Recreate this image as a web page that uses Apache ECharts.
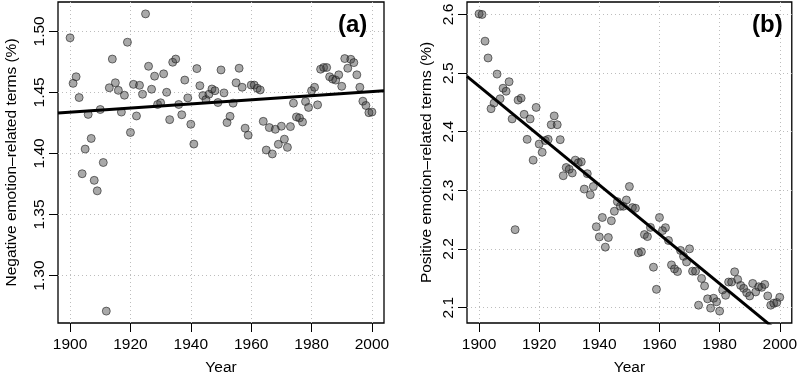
<!DOCTYPE html>
<html>
<head>
<meta charset="utf-8">
<script src="https://cdn.jsdelivr.net/npm/echarts@6/dist/echarts.min.js"></script>
<style>html,body{margin:0;padding:0;background:#fff}#c{width:800px;height:381px}</style>
</head>
<body>
<div id="c"></div>
<script>
var years = [1900,1901,1902,1903,1904,1905,1906,1907,1908,1909,1910,1911,1912,1913,1914,1915,1916,1917,1918,1919,
1920,1921,1922,1923,1924,1925,1926,1927,1928,1929,1930,1931,1932,1933,1934,1935,1936,1937,1938,1939,
1940,1941,1942,1943,1944,1945,1946,1947,1948,1949,1950,1951,1952,1953,1954,1955,1956,1957,1958,1959,
1960,1961,1962,1963,1964,1965,1966,1967,1968,1969,1970,1971,1972,1973,1974,1975,1976,1977,1978,1979,
1980,1981,1982,1983,1984,1985,1986,1987,1988,1989,1990,1991,1992,1993,1994,1995,1996,1997,1998,1999,2000];

var negativeValues = [1.4947,1.4574,1.4628,1.4458,1.3834,1.4036,1.4320,1.4123,1.3780,1.3694,
1.4360,1.3926,1.2709,1.4538,1.4773,1.4579,1.4517,1.4339,1.4477,1.4911,
1.4172,1.4566,1.4307,1.4558,1.4485,1.5143,1.4714,1.4526,1.4633,1.4401,
1.4415,1.4652,1.4501,1.4277,1.4747,1.4773,1.4401,1.4317,1.4601,1.4455,
1.4239,1.4077,1.4695,1.4555,1.4474,1.4441,1.4485,1.4528,1.4514,1.4417,
1.4684,1.4496,1.4253,1.4304,1.4412,1.4579,1.4698,1.4542,1.4207,1.4150,
1.4560,1.4560,1.4534,1.4520,1.4263,1.4028,1.4212,1.3996,1.4198,1.4075,
1.4223,1.4117,1.4050,1.4220,1.4412,1.4299,1.4291,1.4258,1.4425,1.4377,
1.4514,1.4542,1.4398,1.4690,1.4704,1.4704,1.4628,1.4609,1.4601,1.4644,
1.4550,1.4777,1.4698,1.4771,1.4744,1.4644,1.4542,1.4428,1.4393,1.4334,1.4339];

var positiveValues = [2.601,2.600,2.5545,2.5258,2.4393,2.4489,2.4983,2.4562,2.4742,2.4691,
2.4853,2.4219,2.233,2.454,2.4573,2.4297,2.387,2.4219,2.3516,2.4415,
2.379,2.365,2.385,2.387,2.412,2.427,2.412,2.3865,2.325,2.339,
2.336,2.3297,2.3516,2.347,2.3487,2.3022,2.3285,2.2926,2.3066,2.238,
2.2206,2.2538,2.2032,2.2196,2.2482,2.2644,2.2808,2.2729,2.2729,2.2836,
2.3066,2.2706,2.2695,2.1936,2.1953,2.2246,2.2212,2.2369,2.169,2.1312,
2.2538,2.2314,2.2364,2.2145,2.1729,2.1661,2.1616,2.1976,2.1875,2.1779,
2.2003,2.1622,2.1622,2.1042,2.1498,2.1369,2.115,2.0992,2.116,2.11,
2.0941,2.1302,2.1211,2.1437,2.1437,2.1611,2.1481,2.1379,2.1329,2.1256,
2.12,2.1413,2.1268,2.1357,2.1346,2.1396,2.12,2.1042,2.1076,2.1088,2.1177];

// fitted trend lines (endpoints)
var trendA = [[1896, 1.4331], [2004, 1.4514]];
var trendB = [[1896, 2.4944], [2004, 2.0400]];

var xTicks = [1900, 1920, 1940, 1960, 1980, 2000];
var yTicksA = [1.30, 1.35, 1.40, 1.45, 1.50];
var yTicksB = [2.1, 2.2, 2.3, 2.4, 2.5, 2.6];

var panelA = '(a)', panelB = '(b)';
var xTitle = 'Year';
var yTitleA = 'Negative emotion\u2013related terms (%)';
var yTitleB = 'Positive emotion\u2013related terms (%)';

function pairs(xs, ys) { return xs.map(function (x, i) { return [x, ys[i]]; }); }
function range(v) {
  var lo = Math.min.apply(null, v), hi = Math.max.apply(null, v), d = (hi - lo) * 0.04;
  return [lo - d, hi + d];
}

var FONT = "'Liberation Sans', Arial, Helvetica, sans-serif";
var FS = 15.5;
var grid = { type: [1, 3], color: '#bdbdbd', width: 1 };

function xAxis(idx, labels) {
  return {
    type: 'value', gridIndex: idx, min: 1896, max: 2004,
    name: xTitle, nameLocation: 'middle', nameGap: 37,
    nameTextStyle: { fontFamily: FONT, fontSize: FS, color: '#000' },
    axisLine: { show: false },
    axisTick: { show: true, inside: false, length: 9, customValues: labels, lineStyle: { color: '#000', width: 1 } },
    axisLabel: { customValues: labels, margin: 14, fontFamily: FONT, fontSize: FS, color: '#000', formatter: function (v) { return String(v); } },
    splitLine: { show: true, lineStyle: grid }
  };
}
function yAxis(idx, labels, r, title, dec, gap) {
  return {
    type: 'value', gridIndex: idx, min: r[0], max: r[1],
    name: title, nameLocation: 'middle', nameGap: gap, nameRotate: 90,
    nameTextStyle: { fontFamily: FONT, fontSize: FS, color: '#000' },
    axisLine: { show: false },
    axisTick: { show: true, inside: false, length: 9, customValues: labels, lineStyle: { color: '#000', width: 1 } },
    axisLabel: { customValues: labels, rotate: 90, margin: 10, fontFamily: FONT, fontSize: FS, color: '#000',
      formatter: function (v) { return v.toFixed(dec); } },
    splitLine: { show: true, lineStyle: grid }
  };
}

var pointStyle = { color: 'rgba(60,60,60,0.55)', borderColor: 'rgba(30,30,30,0.75)', borderWidth: 1 };

var chart = echarts.init(document.getElementById('c'), null, { renderer: 'canvas' });
chart.setOption({
  animation: false,
  backgroundColor: '#fff',
  title: [
    { text: panelA, left: 338, top: 13, padding: 0, textStyle: { fontFamily: FONT, fontSize: 24, fontWeight: 'bold', color: '#000' } },
    { text: panelB, left: 752, top: 13, padding: 0, textStyle: { fontFamily: FONT, fontSize: 24, fontWeight: 'bold', color: '#000' } }
  ],
  grid: [
    { left: 58, right: 416, top: 2, bottom: 55, show: true, borderColor: '#000', borderWidth: 1.3, backgroundColor: 'transparent' },
    { left: 467, right: 7, top: 2, bottom: 54, show: true, borderColor: '#000', borderWidth: 1.3, backgroundColor: 'transparent' }
  ],
  xAxis: [xAxis(0, xTicks), xAxis(1, xTicks)],
  yAxis: [
    yAxis(0, yTicksA, range(negativeValues), yTitleA, 2, 38),
    yAxis(1, yTicksB, range(positiveValues), yTitleB, 1, 32)
  ],
  series: [
    { type: 'scatter', xAxisIndex: 0, yAxisIndex: 0, data: pairs(years, negativeValues), symbolSize: 8, itemStyle: pointStyle },
    { type: 'line', xAxisIndex: 0, yAxisIndex: 0, data: trendA, symbol: 'none', clip: true, lineStyle: { color: '#000', width: 3 }, z: 3 },
    { type: 'scatter', xAxisIndex: 1, yAxisIndex: 1, data: pairs(years, positiveValues), symbolSize: 8, itemStyle: pointStyle },
    { type: 'line', xAxisIndex: 1, yAxisIndex: 1, data: trendB, symbol: 'none', clip: true, lineStyle: { color: '#000', width: 3 }, z: 3 }
  ]
});
</script>
</body>
</html>
